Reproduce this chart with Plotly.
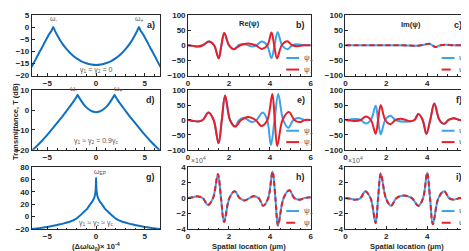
import plotly.graph_objects as go
from plotly.subplots import make_subplots

# ---------------- Column 1: transmittance spectra ----------------
det_a = [-6.6, -6.2, -5.9, -5.6, -5.3, -5.1, -4.9, -4.75, -4.6, -4.5, -4.4, -4.3, -4.2, -4.0, -3.8, -3.5,
         -3.0, -2.5, -2.0, -1.5, -1.0, -0.5, 0.0, 0.5, 1.0, 1.5, 2.0, 2.5, 3.0, 3.5, 3.8, 4.0, 4.2, 4.3,
         4.4, 4.5, 4.6, 4.75, 4.9, 5.1, 5.3, 5.6, 5.9, 6.2, 6.6]
trans_a = [-16.4, -13.3, -11.0, -8.8, -6.5, -5.0, -3.5, -2.5, -1.7, -0.8, 0.0, -0.8, -1.7, -3.3, -4.7, -6.6,
           -9.2, -11.3, -12.9, -14.1, -14.9, -15.4, -15.6, -15.4, -14.9, -14.1, -12.9, -11.3, -9.2, -6.6, -4.7,
           -3.3, -1.7, -0.8, 0.0, -0.8, -1.7, -2.5, -3.5, -5.0, -6.5, -8.8, -11.0, -13.3, -16.4]

det_d = [-6.6, -6.1, -5.6, -5.1, -4.6, -4.1, -3.6, -3.1, -2.7, -2.4, -2.15, -2.0, -1.9, -1.8, -1.65, -1.4,
         -1.1, -0.8, -0.5, -0.25, 0.0, 0.25, 0.5, 0.8, 1.1, 1.4, 1.65, 1.8, 1.9, 2.0, 2.15, 2.4, 2.7, 3.1,
         3.6, 4.1, 4.6, 5.1, 5.6, 6.1, 6.6]
trans_d = [-20.5, -18.2, -15.7, -13.0, -10.1, -7.1, -4.1, -0.9, 1.7, 3.7, 5.5, 6.7, 7.7, 6.8, 5.6, 3.7,
           1.8, 0.5, -0.4, -0.9, -1.1, -0.9, -0.4, 0.5, 1.8, 3.7, 5.6, 6.8, 7.7, 6.7, 5.5, 3.7, 1.7, -0.9,
           -4.1, -7.1, -10.1, -13.0, -15.7, -18.2, -20.5]

det_g = [-6.6, -5.8, -5.0, -4.4, -3.8, -3.3, -2.7, -2.1, -1.7, -1.26, -0.9, -0.6, -0.45, -0.3, -0.2, -0.1,
         -0.05, -0.02, 0.0, 0.02, 0.05, 0.1, 0.2, 0.3, 0.45, 0.6, 0.9, 1.26, 1.7, 2.1, 2.7, 3.3, 3.8, 4.4,
         5.0, 5.8, 6.6]
trans_g = [-20.3, -18.7, -16.7, -15.0, -12.9, -11.0, -8.3, -4.0, 1.0, 7.5, 13.0, 20.0, 23.0, 27.0, 30.0, 36.0,
           42.0, 50.0, 63.0, 50.0, 42.0, 36.0, 30.0, 27.0, 23.0, 20.0, 13.0, 7.5, 1.0, -4.0, -8.3, -11.0,
           -12.9, -15.0, -16.7, -18.7, -20.3]

# ---------------- Row 1: Re / Im of psi ----------------
pos_b_p = [0, 0.25, 0.48, 0.72, 1.02, 1.27, 1.5, 1.63, 1.77, 2.0, 2.23, 2.48, 2.72, 2.93, 3.12, 3.35, 3.6,
           3.86, 4.08, 4.23, 4.38, 4.6, 4.87, 5.1, 5.35, 5.65, 6.0]
re_b_p = [0, -2, -4, 0, 12, 0, -43, 0, 40, 0, -13, 0, 4, 0, -4, 0, 12, 0, -42, 0, 43, 0, -13, 0, 3, 0, 0]
pos_b_m = [0, 0.25, 0.48, 0.72, 1.02, 1.27, 1.5, 1.63, 1.77, 2.0, 2.23, 2.55, 2.93, 3.3, 3.6, 3.88, 4.08,
           4.21, 4.35, 4.58, 4.85, 5.1, 5.35, 5.65, 6.0]
re_b_m = [0, -2, -4, 0, 12, 0, -43, 0, 40, 0, -13, 0, 6, 0, -12, 0, 42, 0, -43, 0, 13, 0, -3, 0, 0]

pos_c = [0, 1.0, 2.0, 2.8, 3.2, 3.5, 3.8, 4.1, 4.25, 4.4, 4.65, 4.9, 5.3, 6.0]
im_c_p = [0, 0, 0, 0, -1, -1.5, 1, 5, 0, -6, 0, 1.5, 0, 0]
im_c_m = [0, 0, 0, 0, -1, -1.5, 1, 5, 0, -6, 0, 1.5, 0, 0]

# ---------------- Row 2 ----------------
pos_e_p = [0, 0.25, 0.5, 0.72, 1.0, 1.25, 1.49, 1.65, 1.81, 2.05, 2.3, 2.5, 2.72, 2.93, 3.12, 3.35, 3.65,
           3.87, 4.05, 4.23, 4.41, 4.65, 4.9, 5.15, 5.4, 5.7, 6.0]
re_e_p = [0, -3, -5, 0, 25, 0, -78, 0, 82, 0, -22, 0, 7, 0, -7, 0, 25, 0, -83, 0, 87, 0, -26, 0, 7, 0, 0]
pos_e_m = [0, 0.25, 0.5, 0.72, 1.0, 1.25, 1.49, 1.65, 1.81, 2.05, 2.3, 2.6, 2.93, 3.3, 3.6, 3.88, 4.12,
           4.24, 4.36, 4.62, 4.93, 5.2, 5.45, 5.72, 6.0]
re_e_m = [0, -3, -5, 0, 25, 0, -78, 0, 82, 0, -22, 0, 10, 0, -20, 0, 87, 0, -87, 0, 27, 0, -7, 0, 0]

pos_f_p = [0, 0.25, 0.5, 0.75, 1.0, 1.25, 1.48, 1.6, 1.73, 1.95, 2.2, 2.45, 2.95, 3.38, 3.57, 3.78, 3.96,
           4.15, 4.35, 4.6, 4.83, 5.05, 5.3, 5.6, 6.0]
im_f_p = [0, 2, 3, 0, -12, 0, 48, 0, -48, 0, 14, 0, -6, 0, 20, 0, -47, 0, 55, 0, -13, 0, 6, 0, 0]
pos_f_m = [0, 0.25, 0.5, 0.75, 1.0, 1.25, 1.48, 1.6, 1.73, 1.95, 2.2, 2.45, 2.72, 2.95, 3.15, 3.38, 3.57,
           3.78, 3.96, 4.15, 4.35, 4.6, 4.83, 5.05, 5.3, 5.6, 6.0]
im_f_m = [0, -2, -3, 0, 12, 0, -46, 0, 50, 0, -14, 0, 4, 0, -4, 0, 20, 0, -47, 0, 55, 0, -13, 0, 6, 0, 0]

# ---------------- Row 3 (x 10^4) ----------------
pos_h = [0, 0.25, 0.48, 0.72, 0.97, 1.22, 1.46, 1.61, 1.76, 2.02, 2.28, 2.52, 2.77, 3.0, 3.2, 3.45, 3.68,
         3.92, 4.13, 4.27, 4.4, 4.67, 4.95, 5.2, 5.45, 5.7, 6.0]
re_h_p = [0, 0.12, 0.22, 0, -0.9, 0, 3.1, 0, -3.1, 0, 0.88, 0, -0.3, 0, 0.25, 0, -1.0, 0, 3.45, 0, -3.55, 0,
          1.0, 0, -0.2, 0, 0.1]
re_h_m = [0, 0.12, 0.22, 0, -0.9, 0, 3.1, 0, -3.1, 0, 0.88, 0, -0.3, 0, 0.25, 0, -1.0, 0, 3.45, 0, -3.55, 0,
          1.0, 0, -0.2, 0, 0.1]

pos_i = [0, 0.25, 0.5, 0.74, 0.97, 1.23, 1.48, 1.6, 1.73, 1.98, 2.23, 2.5, 2.86, 3.25, 3.57, 3.8, 4.0, 4.14,
         4.28, 4.55, 4.83, 5.07, 5.3, 5.6, 6.0]
im_i_p = [0, -0.1, -0.2, 0, 0.9, 0, -3.25, 0, 3.2, 0, -1.0, 0, 0.35, 0, -1.0, 0, 3.3, 0, -3.4, 0, 0.9, 0,
          -0.2, 0, 0.1]
im_i_m = [0, -0.1, -0.2, 0, 0.9, 0, -3.25, 0, 3.2, 0, -1.0, 0, 0.35, 0, -1.0, 0, 3.3, 0, -3.4, 0, 0.9, 0,
          -0.2, 0, 0.1]

series_names = ["ψ<sub>+</sub>", "ψ<sub>-</sub>"]

# ---------------- styling ----------------
W, H = 469, 251
BLUE1 = "#0f6fc0"
BLUE2 = "#3ba3ec"
RED = "#e5202a"
AX = "#262626"
GREY = "#555555"
FONT = "Liberation Sans, Arial, sans-serif"

fig = make_subplots(rows=3, cols=3)

colx = [(22, 152), (180, 304), (339, 463)]
rowy = [(3, 66), (81, 143), (161, 225)]


def pdx(px):
    return px / W


def pdy(py):
    return 1 - py / H


spec_traces = [(det_a, trans_a), (det_d, trans_d), (det_g, trans_g)]
for r, (xx, yy) in enumerate(spec_traces, start=1):
    fig.add_trace(go.Scatter(x=xx, y=yy, mode="lines", line=dict(color=BLUE1, width=2),
                             showlegend=False, line_shape="spline", line_smoothing=0.4), row=r, col=1)

wave = {
    (1, 2): ((pos_b_p, re_b_p), (pos_b_m, re_b_m), "solid"),
    (1, 3): ((pos_c, im_c_p), (pos_c, im_c_m), "dash"),
    (2, 2): ((pos_e_p, re_e_p), (pos_e_m, re_e_m), "solid"),
    (2, 3): ((pos_f_p, im_f_p), (pos_f_m, im_f_m), "solid"),
    (3, 2): ((pos_h, re_h_p), (pos_h, re_h_m), "dash"),
    (3, 3): ((pos_i, im_i_p), (pos_i, im_i_m), "dash"),
}
for (r, c), (pp, mm, rdash) in wave.items():
    fig.add_trace(go.Scatter(x=pp[0], y=pp[1], mode="lines", name=series_names[0], showlegend=False,
                             line=dict(color=BLUE2, width=2, shape="spline", smoothing=1.0)),
                  row=r, col=c)
    fig.add_trace(go.Scatter(x=mm[0], y=mm[1], mode="lines", name=series_names[1], showlegend=False,
                             line=dict(color=RED, width=2, shape="spline", smoothing=1.0,
                                       dash="5px,3px" if rdash == "dash" else "solid")),
                  row=r, col=c)

axis_common = dict(showline=True, mirror=True, linecolor=AX, linewidth=0.8, ticks="inside", ticklen=3,
                   tickcolor=AX, tickwidth=0.8, showgrid=False, zeroline=False,
                   tickfont=dict(family=FONT, size=8, color=AX, weight="bold"))

for r in range(1, 4):
    for c in range(1, 4):
        (x0, x1), (y0, y1) = colx[c - 1], rowy[r - 1]
        fig.update_xaxes(domain=[pdx(x0), pdx(x1)], row=r, col=c, **axis_common)
        fig.update_yaxes(domain=[pdy(y1), pdy(y0)], row=r, col=c, **axis_common)
        if c == 1:
            fig.update_xaxes(range=[-6.6, 6.6], tickvals=[-5, 0, 5],
                             minor=dict(ticks="inside", ticklen=1.5, dtick=1, tickcolor=AX),
                             row=r, col=c)
        else:
            fig.update_xaxes(range=[0, 6], tickvals=[0, 2, 4, 6],
                             minor=dict(ticks="inside", ticklen=1.5, dtick=0.5, tickcolor=AX),
                             row=r, col=c)
            if r < 3:
                fig.update_yaxes(range=[-100, 100], tickvals=[-100, -50, 0, 50, 100], row=r, col=c)
            else:
                fig.update_yaxes(range=[-4, 4], tickvals=[-4, -2, 0, 2, 4], row=r, col=c)

fig.update_yaxes(range=[-20, 5], tickvals=[-20, -15, -10, -5, 0, 5], row=1, col=1)
fig.update_yaxes(range=[-20, 10], tickvals=[-20, -10, 0, 10], row=2, col=1)
fig.update_yaxes(range=[-20, 80], tickvals=[-20, 0, 20, 40, 60, 80], row=3, col=1)

annotations = []
shapes = []


def ann(text, x, y, xref, yref, size=8, color=AX, bold=False, xanchor="center", yanchor="middle", **kw):
    annotations.append(dict(text=text, x=x, y=y, xref=xref, yref=yref, showarrow=False,
                            xanchor=xanchor, yanchor=yanchor,
                            font=dict(family=FONT, size=size, color=color,
                                      weight="bold" if bold else "normal"), **kw))


axis_ids = {(1, 1): "", (1, 2): "2", (1, 3): "3", (2, 1): "4", (2, 2): "5", (2, 3): "6",
            (3, 1): "7", (3, 2): "8", (3, 3): "9"}

# compact legends (key line + label) in the lower right of each wave panel
for (r, c), (pp, mm, rdash) in wave.items():
    a = axis_ids[(r, c)]
    xr, yr = f"x{a} domain", f"y{a} domain"
    ys = (0.32, 0.13) if r == 2 else (0.29, 0.10)
    kx0, kx1 = (0.80, 0.905) if c == 2 else (0.785, 0.89)
    for k, (col, dsh) in enumerate([(BLUE2, "solid"), (RED, "dash" if rdash == "dash" else "solid")]):
        shapes.append(dict(type="line", xref=xr, yref=yr, x0=kx0, x1=kx1, y0=ys[k], y1=ys[k],
                           line=dict(color=col, width=2, dash=dsh)))
        ann(series_names[k], kx1 + 0.02, ys[k], xr, yr, size=8, color=GREY, xanchor="left")

# panel letters
letters = {(1, 1): "a)", (1, 2): "b)", (1, 3): "c)", (2, 1): "d)", (2, 2): "e)", (2, 3): "f)",
           (3, 1): "g)", (3, 2): "h)", (3, 3): "i)"}
for key, txt in letters.items():
    a = axis_ids[key]
    ann(txt, 0.97, 0.84, f"x{a} domain", f"y{a} domain", size=9, bold=True, xanchor="right")

# column-1 annotations
ann("ω<sub>-</sub>", -4.4, 1.0, "x", "y", size=7, color=GREY, yanchor="bottom")
ann("ω<sub>+</sub>", 4.4, 1.0, "x", "y", size=7, color=GREY, yanchor="bottom")
ann("γ<sub>1</sub> = γ<sub>2</sub> = 0", 0, -17.8, "x", "y", size=7, color=GREY)
ann("ω<sub>-</sub>", -2.3, 7.5, "x4", "y4", size=7, color=GREY, yanchor="bottom")
ann("ω<sub>+</sub>", 2.2, 7.5, "x4", "y4", size=7, color=GREY, yanchor="bottom")
ann("γ<sub>1</sub> ≈ γ<sub>2</sub> = 0.9γ<sub>c</sub>", 0, -15.5, "x4", "y4", size=7, color=GREY)
ann("ω<sub>EP</sub>", 0.4, 63, "x7", "y7", size=7, color=GREY, yanchor="bottom")
ann("γ<sub>1</sub> ≈ γ<sub>2</sub> ≈ γ<sub>c</sub>", 0, -10, "x7", "y7", size=7, color=GREY)

ann("Re(ψ)", 3.0, 72, "x2", "y2", size=7.5, bold=True)
ann("Im(ψ)", 3.2, 70, "x3", "y3", size=7.5, bold=True)

ann("×10<sup>4</sup>", pdx(181), pdy(160), "paper", "paper", size=7, color=GREY, xanchor="left",
    yanchor="bottom")
ann("×10<sup>4</sup>", pdx(340), pdy(160), "paper", "paper", size=7, color=GREY, xanchor="left",
    yanchor="bottom")

ann("Transmittance, T (dB)", pdx(6), pdy(113), "paper", "paper", size=7.5, bold=True, textangle=-90)
ann("(Δω/ω<sub>0</sub>)× 10<sup>-4</sup>", pdx(87), pdy(243), "paper", "paper", size=7.5, bold=True)
ann("Spatial location (μm)", pdx(242), pdy(243), "paper", "paper", size=7.5, bold=True)
ann("Spatial location (μm)", pdx(401), pdy(243), "paper", "paper", size=7.5, bold=True)

fig.update_layout(width=W, height=H, margin=dict(l=0, r=0, t=0, b=0), paper_bgcolor="white",
                  plot_bgcolor="white", annotations=annotations, shapes=shapes,
                  font=dict(family=FONT), showlegend=False)

fig.write_html("out.html")
